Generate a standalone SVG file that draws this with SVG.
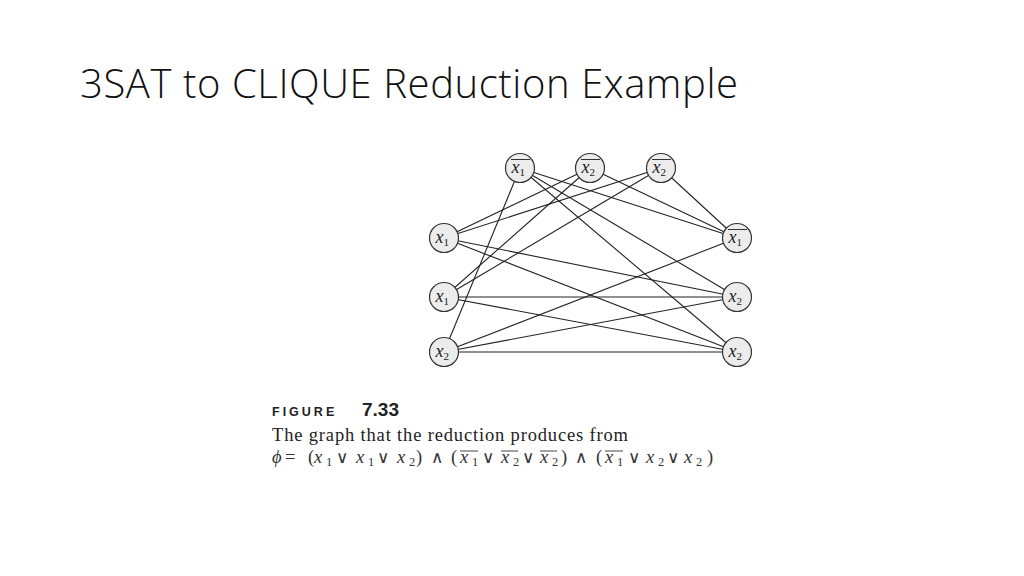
<svg xmlns="http://www.w3.org/2000/svg" width="1024" height="576" viewBox="0 0 1024 576">
<style>
.title{font-family:"Open Sans","Liberation Sans",sans-serif;font-weight:300;font-size:40px;fill:#111}
.edge{stroke:#222;stroke-width:1.1;fill:none}
.node{fill:#ececec;stroke:#333;stroke-width:1.2}
.lbl{font-family:"Liberation Serif",serif;font-style:italic;font-size:18px;fill:#222}
.sub{font-family:"Liberation Serif",serif;font-style:normal;font-size:11px}
.bar{stroke:#333;stroke-width:1}
.cap{font-family:"Liberation Serif",serif;font-size:18.5px;fill:#222}
.fig{font-family:"Liberation Sans",sans-serif;font-weight:bold;font-size:12.5px;letter-spacing:3px;fill:#222}
.num{font-family:"Liberation Sans",sans-serif;font-weight:bold;font-size:19px;fill:#222}
.m{font-family:"Liberation Serif",serif;font-style:italic;font-size:18.5px;fill:#333}
.r{font-family:"Liberation Serif",serif;font-size:18.5px;fill:#333}
.o{font-family:"DejaVu Sans",sans-serif;font-weight:200;font-size:17px;fill:#333}
.s{font-family:"Liberation Serif",serif;font-size:12.5px;fill:#333}
.obar{stroke:#444;stroke-width:1}
</style>
<text class="title" x="80" y="98" textLength="658" lengthAdjust="spacing">3SAT to CLIQUE Reduction Example</text>

<g id="connectors">
<line class="edge" x1="444" y1="238" x2="590" y2="168"/>
<line class="edge" x1="444" y1="238" x2="661" y2="168"/>
<line class="edge" x1="444" y1="297" x2="590" y2="168"/>
<line class="edge" x1="444" y1="297" x2="661" y2="168"/>
<line class="edge" x1="444" y1="352" x2="520" y2="168"/>
<line class="edge" x1="444" y1="238" x2="737" y2="297"/>
<line class="edge" x1="444" y1="238" x2="737" y2="352"/>
<line class="edge" x1="444" y1="297" x2="737" y2="297"/>
<line class="edge" x1="444" y1="297" x2="737" y2="352"/>
<line class="edge" x1="444" y1="352" x2="737" y2="238"/>
<line class="edge" x1="444" y1="352" x2="737" y2="297"/>
<line class="edge" x1="444" y1="352" x2="737" y2="352"/>
<line class="edge" x1="520" y1="168" x2="737" y2="238"/>
<line class="edge" x1="520" y1="168" x2="737" y2="297"/>
<line class="edge" x1="520" y1="168" x2="737" y2="352"/>
<line class="edge" x1="590" y1="168" x2="737" y2="238"/>
<line class="edge" x1="661" y1="168" x2="737" y2="238"/>
</g>

<g id="t1">
<circle class="node" cx="520" cy="168" r="14.5"/>
<line class="bar" x1="511" y1="159.5" x2="530" y2="159.5"/>
<text class="lbl" x="511.5" y="173">x<tspan class="sub" dy="2.5">1</tspan></text>
</g>
<g id="t2">
<circle class="node" cx="590" cy="168" r="14.5"/>
<line class="bar" x1="581" y1="159.5" x2="600" y2="159.5"/>
<text class="lbl" x="581.5" y="173">x<tspan class="sub" dy="2.5">2</tspan></text>
</g>
<g id="t3">
<circle class="node" cx="661" cy="168" r="14.5"/>
<line class="bar" x1="652" y1="159.5" x2="671" y2="159.5"/>
<text class="lbl" x="652.5" y="173">x<tspan class="sub" dy="2.5">2</tspan></text>
</g>
<g id="l1">
<circle class="node" cx="444" cy="238" r="14.5"/>
<text class="lbl" x="435.5" y="243">x<tspan class="sub" dy="2.5">1</tspan></text>
</g>
<g id="l2">
<circle class="node" cx="444" cy="297" r="14.5"/>
<text class="lbl" x="435.5" y="302">x<tspan class="sub" dy="2.5">1</tspan></text>
</g>
<g id="l3">
<circle class="node" cx="444" cy="352" r="14.5"/>
<text class="lbl" x="435.5" y="357">x<tspan class="sub" dy="2.5">2</tspan></text>
</g>
<g id="r1">
<circle class="node" cx="737" cy="238" r="14.5"/>
<line class="bar" x1="728" y1="229.5" x2="747" y2="229.5"/>
<text class="lbl" x="728.5" y="243">x<tspan class="sub" dy="2.5">1</tspan></text>
</g>
<g id="r2">
<circle class="node" cx="737" cy="297" r="14.5"/>
<text class="lbl" x="728.5" y="302">x<tspan class="sub" dy="2.5">2</tspan></text>
</g>
<g id="r3">
<circle class="node" cx="737" cy="352" r="14.5"/>
<text class="lbl" x="728.5" y="357">x<tspan class="sub" dy="2.5">2</tspan></text>
</g>

<g id="caption">
<text class="fig" x="272" y="416">FIGURE</text>
<text class="num" x="362" y="416">7.33</text>
<text class="cap" x="272" y="441" textLength="356" lengthAdjust="spacing">The graph that the reduction produces from</text>
<text class="m" x="272" y="463">ϕ</text>
<text class="r" x="285" y="463">=</text>
<text class="r" x="308" y="463">(</text>
<text class="m" x="314" y="463">x</text><text class="s" x="326" y="466">1</text>
<text class="o" x="336" y="463">∨</text>
<text class="m" x="356" y="463">x</text><text class="s" x="368" y="466">1</text>
<text class="o" x="377" y="463">∨</text>
<text class="m" x="397" y="463">x</text><text class="s" x="409" y="466">2</text>
<text class="r" x="416" y="463">)</text>
<text class="o" x="431" y="463">∧</text>
<text class="r" x="451" y="463">(</text>
<line class="obar" x1="460" y1="451" x2="478" y2="451"/>
<text class="m" x="460" y="463">x</text><text class="s" x="472" y="466">1</text>
<text class="o" x="482" y="463">∨</text>
<line class="obar" x1="501" y1="451" x2="518" y2="451"/>
<text class="m" x="501" y="463">x</text><text class="s" x="513" y="466">2</text>
<text class="o" x="522" y="463">∨</text>
<line class="obar" x1="540" y1="451" x2="557" y2="451"/>
<text class="m" x="540" y="463">x</text><text class="s" x="552" y="466">2</text>
<text class="r" x="561" y="463">)</text>
<text class="o" x="575" y="463">∧</text>
<text class="r" x="596" y="463">(</text>
<line class="obar" x1="605" y1="451" x2="623" y2="451"/>
<text class="m" x="605" y="463">x</text><text class="s" x="617" y="466">1</text>
<text class="o" x="628" y="463">∨</text>
<text class="m" x="646" y="463">x</text><text class="s" x="658" y="466">2</text>
<text class="o" x="667" y="463">∨</text>
<text class="m" x="684" y="463">x</text><text class="s" x="696" y="466">2</text>
<text class="r" x="707" y="463">)</text>
</g>
</svg>
